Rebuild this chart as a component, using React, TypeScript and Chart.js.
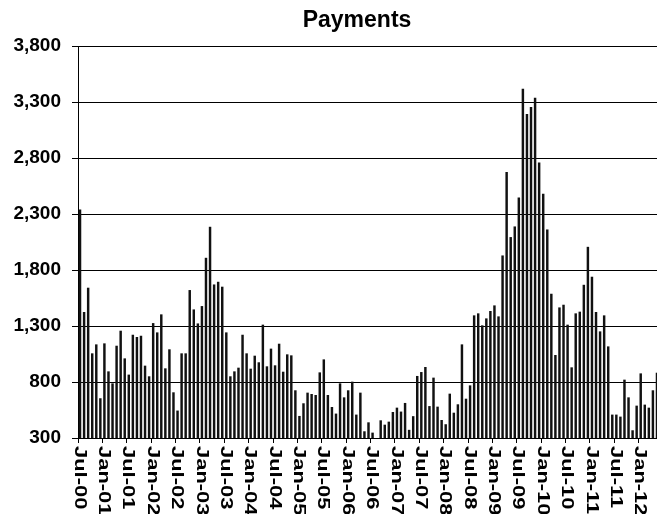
import React, { useEffect, useRef } from "react";
import { Chart, registerables } from "chart.js";

Chart.register(...registerables);

// Monthly payments, Jul-00 .. May-12
const PAY_2000 = [2337, 1422, 1639, 1053, 1133, 652]; // Jul-Dec
const PAY_2001 = [1142, 892, 785, 1121, 1255, 1008, 863, 1219, 1199, 1210, 943, 848];
const PAY_2002 = [1323, 1240, 1401, 919, 1089, 705, 542, 1053, 1053, 1618, 1445, 1320];
const PAY_2003 = [1475, 1906, 2183, 1668, 1692, 1648, 1240, 848, 892, 925, 1219, 1053];
const PAY_2004 = [916, 1032, 973, 1309, 937, 1095, 946, 1139, 889, 1044, 1035, 723];
const PAY_2005 = [494, 607, 702, 690, 681, 883, 999, 681, 574, 515, 785, 660];
const PAY_2006 = [723, 800, 506, 702, 357, 437, 345, 290, 455, 416, 443, 529];
const PAY_2007 = [568, 533, 610, 370, 492, 851, 886, 931, 582, 836, 577, 458];
const PAY_2008 = [420, 693, 523, 598, 1133, 648, 767, 1392, 1410, 1303, 1365, 1431];
const PAY_2009 = [1481, 1383, 1927, 2673, 2091, 2186, 2444, 3416, 3191, 3253, 3336, 2756];
const PAY_2010 = [2477, 2159, 1585, 1038, 1463, 1487, 1309, 928, 1410, 1425, 1665, 2004];
const PAY_2011 = [1737, 1422, 1249, 1392, 1115, 506, 506, 488, 818, 660, 366, 586];
const PAY_2012 = [874, 595, 568, 723, 880]; // Jan-May

const MONTHS = ["Jan", "Feb", "Mar", "Apr", "May", "Jun", "Jul", "Aug", "Sep", "Oct", "Nov", "Dec"];
const START_YEAR = 2000;
const START_MONTH = 6; // July

const TICK_LABELS = [
  "Jul-00", "Jan-01", "Jul-01", "Jan-02", "Jul-02", "Jan-03", "Jul-03", "Jan-04",
  "Jul-04", "Jan-05", "Jul-05", "Jan-06", "Jul-06", "Jan-07", "Jul-07", "Jan-08",
  "Jul-08", "Jan-09", "Jul-09", "Jan-10", "Jul-10", "Jan-11", "Jul-11", "Jan-12",
];
const TICK_EVERY = 6;

const Y_MIN = 300;
const Y_MAX = 3800;
const Y_STEP = 500;

const TITLE = "Payments";

const VALUES = [
  ...PAY_2000, ...PAY_2001, ...PAY_2002, ...PAY_2003, ...PAY_2004, ...PAY_2005, ...PAY_2006,
  ...PAY_2007, ...PAY_2008, ...PAY_2009, ...PAY_2010, ...PAY_2011, ...PAY_2012,
];

const CATEGORIES = VALUES.map((_, i) => {
  const m = START_MONTH + i;
  const y = START_YEAR + Math.floor(m / 12);
  return MONTHS[m % 12] + "-" + String(y % 100).padStart(2, "0");
});

const FONT = '"Liberation Sans", Arial, Helvetica, sans-serif';

const labelPlugin = {
  id: "customLabels",
  afterDraw(chart: any) {
    const ctx = chart.ctx;
    const xs = chart.scales.x;
    const area = chart.chartArea;
    ctx.save();
    // title
    ctx.fillStyle = "#000";
    ctx.font = "bold 23px " + FONT;
    ctx.textAlign = "center";
    ctx.textBaseline = "alphabetic";
    ctx.fillText(TITLE, 357, 27);
    // rotated x labels (reading downward)
    ctx.font = "bold 16px " + FONT;
    ctx.textAlign = "left";
    ctx.textBaseline = "middle";
    TICK_LABELS.forEach((lab, k) => {
      const idx = k * TICK_EVERY;
      const x = xs.getPixelForValue(idx) - 1;
      const y = area.bottom + 8;
      ctx.save();
      ctx.translate(x, y);
      ctx.rotate(Math.PI / 2);
      ctx.scale(1.37, 1);
      ctx.fillText(lab, 0, 0);
      ctx.restore();
    });
    ctx.restore();
  },
};

export default function App() {
  const ref = useRef<HTMLCanvasElement | null>(null);

  useEffect(() => {
    if (!ref.current) return;
    const chart = new Chart(ref.current, {
      type: "bar",
      data: {
        labels: CATEGORIES,
        datasets: [
          {
            label: TITLE,
            data: VALUES,
            backgroundColor: "#111",
            borderWidth: 0,
            barThickness: 1.8,
          },
        ],
      },
      options: {
        responsive: false,
        animation: false,
        layout: { padding: { top: 46, left: 0, right: 0, bottom: 0 } },
        plugins: {
          legend: { display: false },
          title: { display: false },
          tooltip: { enabled: false },
        },
        scales: {
          x: {
            offset: true,
            ticks: { display: false },
            grid: {
              offset: true,
              drawOnChartArea: false,
              drawTicks: true,
              tickLength: 5,
              color: (c: any) => (c.index % TICK_EVERY === 0 ? "#000" : "rgba(0,0,0,0)"),
            },
            border: { display: true, color: "#000", width: 1 },
            afterFit: (s: any) => {
              s.height = 76;
            },
          },
          y: {
            min: Y_MIN,
            max: Y_MAX,
            ticks: {
              stepSize: Y_STEP,
              color: "#000",
              padding: 11,
              font: { family: FONT, size: 19, weight: "bold" },
              callback: (v: any) => Number(v).toLocaleString("en-US"),
            },
            grid: { color: "#000", lineWidth: 1, tickLength: 6, drawTicks: true },
            border: { display: true, color: "#000", width: 1 },
            afterFit: (s: any) => {
              s.width = 78;
            },
          },
        },
      },
      plugins: [labelPlugin],
    });
    return () => chart.destroy();
  }, []);

  return (
    <div
      style={{
        position: "fixed",
        left: 0,
        top: 0,
        width: 657,
        height: 514,
        overflow: "hidden",
        background: "#fff",
      }}
    >
      <canvas ref={ref} width={659} height={514} style={{ display: "block" }} />
    </div>
  );
}
